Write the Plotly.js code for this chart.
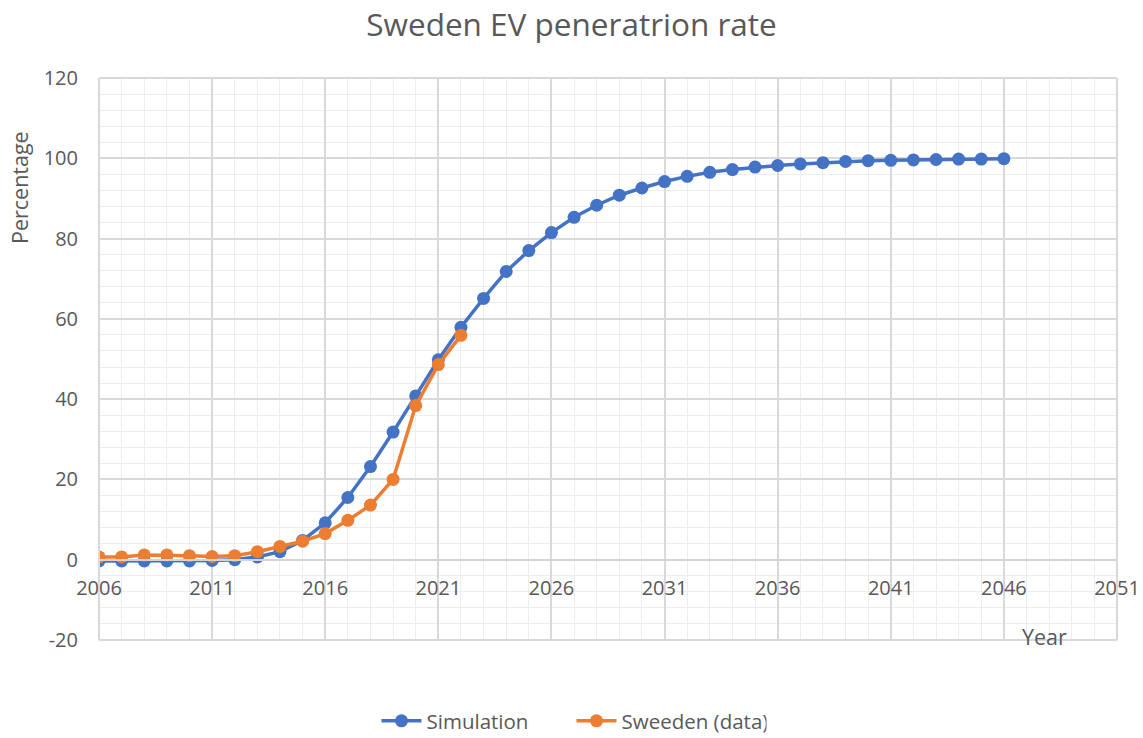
<!DOCTYPE html>
<html>
<head>
<meta charset="utf-8">
<script src="https://cdn.plot.ly/plotly-3.0.1.min.js"></script>
<style>html,body{margin:0;padding:0;background:#fff;}#chart{width:1143px;height:738px;}</style>
</head>
<body>
<div id="chart"></div>
<script>
const simYears = [2006,2007,2008,2009,2010,2011,2012,2013,2014,2015,2016,2017,2018,2019,2020,2021,2022,2023,2024,2025,2026,2027,2028,2029,2030,2031,2032,2033,2034,2035,2036,2037,2038,2039,2040,2041,2042,2043,2044,2045,2046];
const simValues = [-0.3,-0.3,-0.3,-0.3,-0.3,-0.2,0,0.7,2.0,4.8,9.2,15.5,23.2,31.8,40.8,49.8,57.9,65.1,71.8,77.0,81.5,85.3,88.3,90.8,92.6,94.2,95.5,96.5,97.2,97.8,98.2,98.6,98.9,99.2,99.4,99.5,99.6,99.7,99.8,99.8,99.9];
const dataYears = [2006,2007,2008,2009,2010,2011,2012,2013,2014,2015,2016,2017,2018,2019,2020,2021,2022];
const dataValues = [0.7,0.7,1.2,1.2,1.0,0.8,1.0,2.0,3.3,4.6,6.5,9.8,13.6,20.0,38.4,48.6,55.9];
const xTickVals = [2006,2011,2016,2021,2026,2031,2036,2041,2046,2051];
const yTickVals = [-20,0,20,40,60,80,100,120];

const font = "'Open Sans', 'Noto Sans', sans-serif";
const grey = '#595959';

const traces = [
  {x: simYears, y: simValues, name: 'Simulation', type: 'scatter', mode: 'lines+markers',
   line: {color: '#4472C4', width: 3.5}, marker: {color: '#4472C4', size: 13}},
  {x: dataYears, y: dataValues, name: 'Sweeden (data)', type: 'scatter', mode: 'lines+markers',
   line: {color: '#ED7D31', width: 3.5}, marker: {color: '#ED7D31', size: 13}}
];

const layout = {
  width: 1143, height: 738,
  margin: {l: 99, r: 26, t: 78, b: 98},
  paper_bgcolor: '#fff', plot_bgcolor: '#fff',
  font: {family: font, color: grey, size: 20},
  title: {text: 'Sweden EV peneratrion rate', font: {family: font, size: 31.5, color: grey},
          x: 0.5, xanchor: 'center', xref: 'container', yref: 'container', y: 1 - 25/738, yanchor: 'middle'},
  showlegend: true,
  legend: {orientation: 'h', x: 0.5, xanchor: 'center', xref: 'container', yref: 'container', y: 17/738, yanchor: 'middle',
           font: {size: 20.5, color: grey}, itemwidth: 40, entrywidth: 140},
  xaxis: {
    range: [2006, 2051], tickmode: 'array', tickvals: xTickVals, ticktext: xTickVals.map(String),
    showgrid: true, gridcolor: '#d9d9d9', gridwidth: 2,
    minor: {dtick: 1, tick0: 2006, showgrid: true, gridcolor: '#ededed', gridwidth: 1},
    anchor: 'free', position: 1/7, showline: true, linecolor: '#d4d4d4', linewidth: 2,
    zeroline: false, ticks: '', ticklabelstandoff: 10, tickfont: {size: 20, color: grey}
  },
  yaxis: {
    range: [-20, 120], tickmode: 'array', tickvals: yTickVals, ticktext: yTickVals.map(v => String(v)),
    showgrid: true, gridcolor: '#d9d9d9', gridwidth: 2,
    minor: {dtick: 4, tick0: 0, showgrid: true, gridcolor: '#ededed', gridwidth: 1},
    zeroline: false, showline: false, ticks: '', ticklabelstandoff: 20, tickfont: {size: 20, color: grey}
  },
  shapes: [
    {type: 'line', xref: 'paper', yref: 'paper', x0: 1, x1: 1, y0: 0, y1: 1, line: {color: '#d9d9d9', width: 2}},
    {type: 'line', xref: 'paper', yref: 'paper', x0: 0, x1: 1, y0: 0, y1: 0, line: {color: '#d9d9d9', width: 2}},
    {type: 'line', xref: 'paper', yref: 'paper', x0: 0, x1: 1, y0: 1, y1: 1, line: {color: '#d9d9d9', width: 2}},
    {type: 'line', xref: 'paper', yref: 'paper', x0: 0, x1: 0, y0: 0, y1: 1, line: {color: '#d9d9d9', width: 2}}
  ],
  annotations: [
    {text: 'Percentage', xref: 'paper', yref: 'paper', x: -0.0786, y: 0.806, textangle: -90, showarrow: false, xanchor: 'center', yanchor: 'middle', font: {size: 21.5, color: grey}},
    {text: 'Year', xref: 'paper', yref: 'paper', x: 0.929, y: 0.007, showarrow: false, xanchor: 'center', yanchor: 'middle', font: {size: 21.5, color: grey}}
  ]
};

Plotly.newPlot('chart', traces, layout, {displayModeBar: false, staticPlot: true});
</script>
</body>
</html>
